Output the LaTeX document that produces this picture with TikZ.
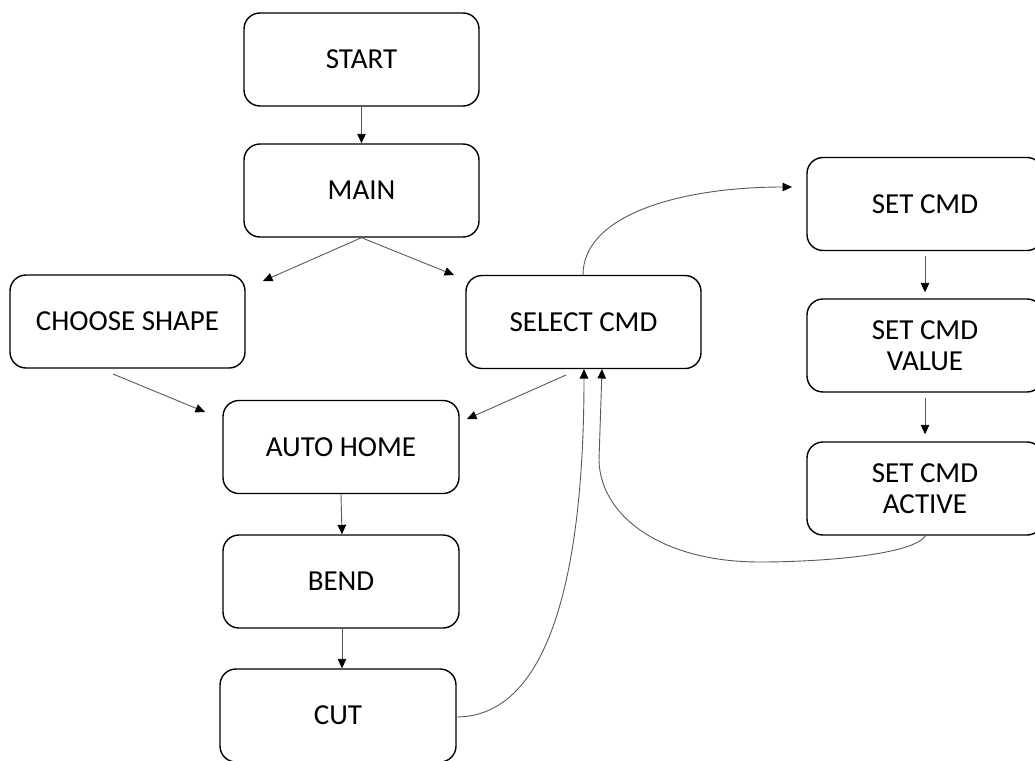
\documentclass[tikz,border=0pt]{standalone}
\usepackage{fontspec}
\setmainfont{Carlito}
\usetikzlibrary{arrows.meta}
\begin{document}
\begin{tikzpicture}[x=1pt,y=-1pt,
  box/.style={draw=black,line width=1.4pt,rounded corners=16pt,minimum width=235pt,minimum height=93pt,inner sep=0pt,align=center,font=\fontsize{29}{31}\selectfont,text=black},
  conn/.style={draw=black!65,line width=0.9pt,-{Triangle[length=9.5pt,width=8.5pt,black]}}]
\useasboundingbox (0,0) rectangle (1035,760);
\node[box] (start) at (361.5,59.5) {START};
\node[box] (main) at (361.5,190.5) {MAIN};
\node[box] (choose) at (127.5,321.5) {CHOOSE SHAPE};
\node[box] (select) at (583.5,322) {SELECT CMD};
\node[box,minimum width=236pt] (auto) at (341,447) {AUTO HOME};
\node[box,minimum width=236pt] (bend) at (341,581.5) {BEND};
\node[box,minimum width=236pt] (cut) at (338,715.5) {CUT};
\node[box,minimum width=236pt] (set) at (925,204) {SET CMD};
\node[box,minimum width=236pt] (value) at (925,345.5) {SET CMD\\VALUE};
\node[box,minimum width=236pt] (active) at (925,488.5) {SET CMD\\ACTIVE};
% free ends
\coordinate (mainL) at (263,281);
\coordinate (mainR) at (454,275);
\coordinate (chooseS) at (113,374);
\coordinate (autoL) at (205,412);
\coordinate (selectS) at (566,375);
\coordinate (autoR) at (467,419);
\coordinate (setW) at (792,187);
\coordinate (selA) at (584,369);
\coordinate (selB) at (602,369);
\coordinate (cutE) at (456,717);
\coordinate (selN) at (583,275);
\coordinate (actS) at (926,535);
% connectors
\draw[conn] (start.south) -- (main.north);
\draw[conn] (main.south) -- (mainL);
\draw[conn] (main.south) -- (mainR);
\draw[conn] (chooseS) -- (autoL);
\draw[conn] (selectS) -- (autoR);
\draw[conn] (auto.south) -- ([xshift=1pt]bend.north);
\draw[conn] ([xshift=1pt]bend.south) -- ([xshift=4pt]cut.north);
\draw[conn] (set.south) ++(0,5) -- ([yshift=6pt]value.north);
\draw[conn] (value.south) ++(0,5) -- ([yshift=7pt]active.north);
\draw[conn] (selN) .. controls (583,215) and (680,187) .. (setW);
\draw[conn] (cutE) .. controls (560,717) and (584,540) .. (selA);
\draw[conn] (actS) .. controls (915,555) and (820,562) .. (760,562)
  .. controls (660,562) and (600,515) .. (599,460) -- (selB);
\end{tikzpicture}
\end{document}
